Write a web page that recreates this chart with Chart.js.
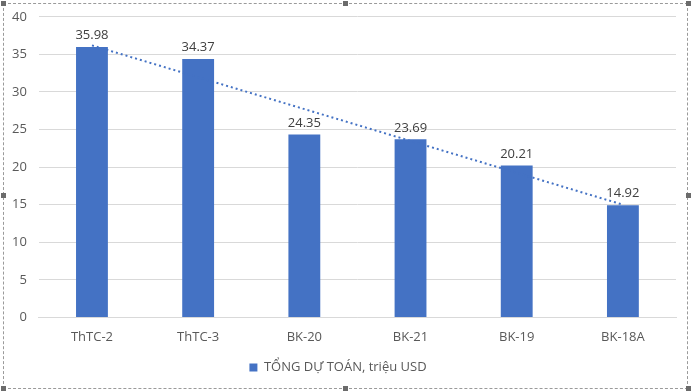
<!DOCTYPE html>
<html>
<head>
<meta charset="utf-8">
<script src="https://cdn.jsdelivr.net/npm/chart.js@4"></script>
<style>
  html, body { margin: 0; padding: 0; background: #fff; }
  #wrap { position: relative; width: 692px; height: 392px; overflow: hidden; }
  #myChart { display: block; margin-top: -3px; }
  #frame { position: absolute; left: 3px; top: 3px; right: 4px; bottom: 3px; border: 1px dashed #9a9a9a; pointer-events: none; }
  .h { position: absolute; width: 5px; height: 5px; background: #6b6b6b; }
</style>
</head>
<body>
<div id="wrap">
  <canvas id="myChart" width="692" height="395"></canvas>
  <div id="frame"></div>
  <div class="h" style="left:1px;top:1px"></div>
  <div class="h" style="left:343px;top:1px"></div>
  <div class="h" style="left:686px;top:1px"></div>
  <div class="h" style="left:1px;top:193px"></div>
  <div class="h" style="left:686px;top:193px"></div>
  <div class="h" style="left:1px;top:386px"></div>
  <div class="h" style="left:343px;top:386px"></div>
  <div class="h" style="left:686px;top:386px"></div>
</div>
<script>
var categories = ["ThTC-2", "ThTC-3", "BK-20", "BK-21", "BK-19", "BK-18A"];
var totals = [35.98, 34.37, 24.35, 23.69, 20.21, 14.92];
// linear trendline, read at first and last category
var trendValues = [36.2, null, null, null, null, 15.0];
var seriesName = "TỔNG DỰ TOÁN, triệu USD";

var font = "'Open Sans', 'Noto Sans', sans-serif";

// value labels above bars
var barLabels = {
    id: 'barLabels',
    afterDatasetsDraw: function(chart) {
        var ctx = chart.ctx;
        var meta = chart.getDatasetMeta(0);
        ctx.save();
        ctx.font = '13px ' + font;
        ctx.fillStyle = '#404040';
        ctx.textAlign = 'center';
        ctx.textBaseline = 'bottom';
        meta.data.forEach(function(bar, i) {
            ctx.fillText(totals[i].toFixed(2), bar.x, bar.y - 5);
        });
        ctx.restore();
    }
};

var ctx = document.getElementById('myChart').getContext('2d');
var myChart = new Chart(ctx, {
    type: 'bar',
    data: {
        labels: categories,
        datasets: [{
            label: seriesName,
            data: totals,
            backgroundColor: '#4472C4',
            barPercentage: 0.3,
            categoryPercentage: 1.0,
            order: 2
        }, {
            type: 'line',
            label: 'trend',
            data: trendValues,
            spanGaps: true,
            borderColor: '#4472C4',
            borderWidth: 2,
            borderDash: [2, 3],
            pointRadius: 0,
            fill: false,
            order: 1
        }]
    },
    options: {
        responsive: false,
        animation: false,
        layout: { padding: { left: 0, right: 16, top: 0, bottom: 8 } },
        plugins: {
            legend: {
                position: 'bottom',
                labels: {
                    filter: function(item) { return item.datasetIndex === 0; },
                    boxWidth: 8,
                    boxHeight: 8,
                    color: '#595959',
                    font: { family: font, size: 13 },
                    padding: 4
                }
            },
            tooltip: { enabled: false }
        },
        scales: {
            x: {
                grid: { display: false, drawTicks: false },
                border: { color: '#d9d9d9' },
                ticks: { color: '#595959', font: { family: font, size: 13 }, padding: 12 }
            },
            y: {
                min: 0,
                max: 40,
                ticks: { stepSize: 5, color: '#595959', font: { family: font, size: 13 }, padding: 12 },
                grid: { color: '#d9d9d9', drawTicks: false },
                border: { display: false }
            }
        }
    },
    plugins: [barLabels]
});
</script>
</body>
</html>
